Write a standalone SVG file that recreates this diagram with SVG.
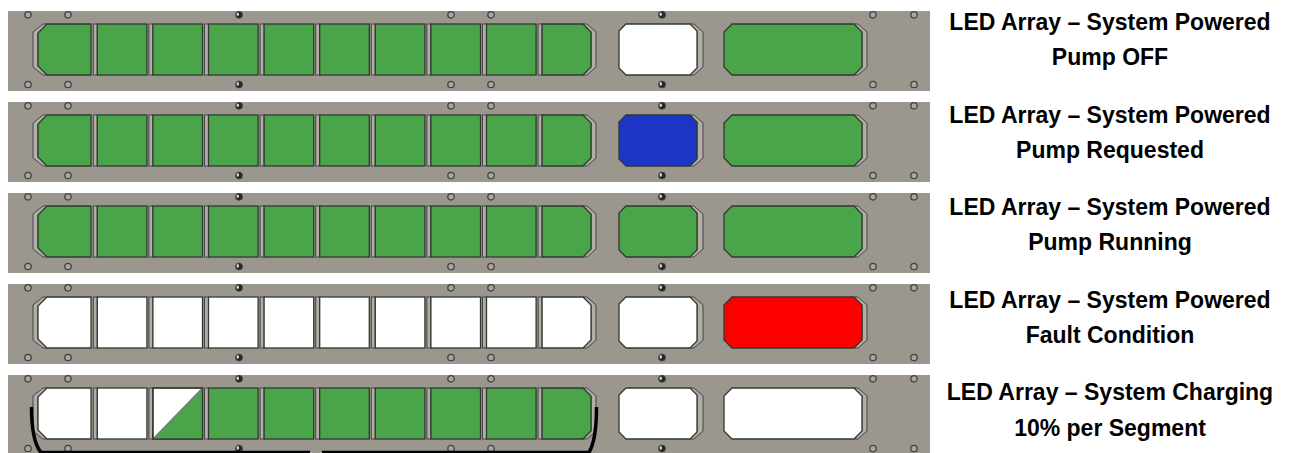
<svg xmlns="http://www.w3.org/2000/svg" xmlns:xlink="http://www.w3.org/1999/xlink" width="1295" height="453" viewBox="0 0 1295 453">
<style>
.plate{fill:#9b978f}
.bz{fill:#b2aea7;stroke:#444;stroke-width:1}
.led{stroke:#2f3a2f;stroke-width:1.3}
.g{fill:#4aa54a}
.w{fill:#ffffff}
.b{fill:#1c35c5}
.r{fill:#fe0000}
.sl{fill:#aaa69f;stroke:#434343;stroke-width:1.3}
.sd{fill:#262626;stroke:#444;stroke-width:0.8}
.sh{fill:#d8d8d8}
.lbl{font-family:"Liberation Sans",Arial,sans-serif;font-weight:bold;font-size:23px;fill:#000;text-anchor:middle}
.brace{fill:none;stroke:#000;stroke-width:3.5;stroke-linecap:butt}
</style>
<defs>
<g id="frame">
<rect class="plate" x="8" y="0" width="922" height="80"/>
<circle class="sl" cx="28" cy="3.8" r="3.2"/><circle class="sl" cx="68" cy="3.8" r="3.2"/>
<circle class="sd" cx="239" cy="3.8" r="3.5"/><ellipse class="sh" cx="237.8" cy="3.2" rx="1.2" ry="1.8"/>
<circle class="sl" cx="451" cy="3.8" r="3.2"/><circle class="sl" cx="491" cy="3.8" r="3.2"/>
<circle class="sd" cx="662" cy="3.8" r="3.5"/><ellipse class="sh" cx="660.8" cy="3.2" rx="1.2" ry="1.8"/>
<circle class="sl" cx="873" cy="3.8" r="3.2"/><circle class="sl" cx="914" cy="3.8" r="3.2"/>
<circle class="sl" cx="28" cy="73.5" r="3.2"/><circle class="sl" cx="68" cy="73.5" r="3.2"/>
<circle class="sd" cx="239" cy="73.5" r="3.5"/><ellipse class="sh" cx="237.8" cy="72.9" rx="1.2" ry="1.8"/>
<circle class="sl" cx="451" cy="73.5" r="3.2"/><circle class="sl" cx="491" cy="73.5" r="3.2"/>
<circle class="sd" cx="662" cy="73.5" r="3.5"/><ellipse class="sh" cx="660.8" cy="72.9" rx="1.2" ry="1.8"/>
<circle class="sl" cx="873" cy="73.5" r="3.2"/><circle class="sl" cx="914" cy="73.5" r="3.2"/>
<polygon class="bz" points="43,13 47,13 38,22 38,55 47,64 43,64 33,56 33,21"/>
<rect class="bz" x="93.3" y="13" width="4" height="51"/>
<rect class="bz" x="148.9" y="13" width="4" height="51"/>
<rect class="bz" x="204.5" y="13" width="4" height="51"/>
<rect class="bz" x="260.1" y="13" width="4" height="51"/>
<rect class="bz" x="315.7" y="13" width="4" height="51"/>
<rect class="bz" x="371.3" y="13" width="4" height="51"/>
<rect class="bz" x="426.9" y="13" width="4" height="51"/>
<rect class="bz" x="482.5" y="13" width="4" height="51"/>
<rect class="bz" x="538.1" y="13" width="4" height="51"/>
<polygon class="bz" points="583,13 587,13 596,21 596,56 587,64 583,64 591,56 591,21"/>
<polygon class="bz" points="690,13 694,13 703,21 703,56 694,64 690,64 697,57 697,20"/>
<polygon class="bz" points="854,13 858,13 867,21 867,56 858,64 854,64 862,56 862,21"/>
</g>
<polygon id="s0" class="led" points="47,13 91,13 91,64 47,64 38,55 38,22"/>
<rect id="s1" class="led" x="97.3" y="13" width="49.6" height="51"/>
<rect id="s2" class="led" x="152.9" y="13" width="49.6" height="51"/>
<rect id="s3" class="led" x="208.5" y="13" width="49.6" height="51"/>
<rect id="s4" class="led" x="264.1" y="13" width="49.6" height="51"/>
<rect id="s5" class="led" x="319.7" y="13" width="49.6" height="51"/>
<rect id="s6" class="led" x="375.3" y="13" width="49.6" height="51"/>
<rect id="s7" class="led" x="430.9" y="13" width="49.6" height="51"/>
<rect id="s8" class="led" x="486.5" y="13" width="49.6" height="51"/>
<polygon id="s9" class="led" points="542.1,13 583,13 591,21 591,56 583,64 542.1,64"/>
<polygon id="pump" class="led" points="626,13 690,13 697,20 697,57 690,64 626,64 619,57 619,20"/>
<polygon id="stat" class="led" points="732,13 854,13 862,21 862,56 854,64 732,64 724,56 724,21"/>
</defs>

<g id="panel-1" transform="translate(0,11)">
<use xlink:href="#frame"/>
<use xlink:href="#s0" class="g"/><use xlink:href="#s1" class="g"/><use xlink:href="#s2" class="g"/><use xlink:href="#s3" class="g"/><use xlink:href="#s4" class="g"/><use xlink:href="#s5" class="g"/><use xlink:href="#s6" class="g"/><use xlink:href="#s7" class="g"/><use xlink:href="#s8" class="g"/><use xlink:href="#s9" class="g"/>
<use xlink:href="#pump" class="w"/><use xlink:href="#stat" class="g"/>
<text class="lbl" x="1110" y="19">LED Array – System Powered</text>
<text class="lbl" x="1110" y="54">Pump OFF</text>
</g>

<g id="panel-2" transform="translate(0,102)">
<use xlink:href="#frame"/>
<use xlink:href="#s0" class="g"/><use xlink:href="#s1" class="g"/><use xlink:href="#s2" class="g"/><use xlink:href="#s3" class="g"/><use xlink:href="#s4" class="g"/><use xlink:href="#s5" class="g"/><use xlink:href="#s6" class="g"/><use xlink:href="#s7" class="g"/><use xlink:href="#s8" class="g"/><use xlink:href="#s9" class="g"/>
<use xlink:href="#pump" class="b"/><use xlink:href="#stat" class="g"/>
<text class="lbl" x="1110" y="20.6">LED Array – System Powered</text>
<text class="lbl" x="1110" y="55.6">Pump Requested</text>
</g>

<g id="panel-3" transform="translate(0,193)">
<use xlink:href="#frame"/>
<use xlink:href="#s0" class="g"/><use xlink:href="#s1" class="g"/><use xlink:href="#s2" class="g"/><use xlink:href="#s3" class="g"/><use xlink:href="#s4" class="g"/><use xlink:href="#s5" class="g"/><use xlink:href="#s6" class="g"/><use xlink:href="#s7" class="g"/><use xlink:href="#s8" class="g"/><use xlink:href="#s9" class="g"/>
<use xlink:href="#pump" class="g"/><use xlink:href="#stat" class="g"/>
<text class="lbl" x="1110" y="22.2">LED Array – System Powered</text>
<text class="lbl" x="1110" y="57.2">Pump Running</text>
</g>

<g id="panel-4" transform="translate(0,284)">
<use xlink:href="#frame"/>
<use xlink:href="#s0" class="w"/><use xlink:href="#s1" class="w"/><use xlink:href="#s2" class="w"/><use xlink:href="#s3" class="w"/><use xlink:href="#s4" class="w"/><use xlink:href="#s5" class="w"/><use xlink:href="#s6" class="w"/><use xlink:href="#s7" class="w"/><use xlink:href="#s8" class="w"/><use xlink:href="#s9" class="w"/>
<use xlink:href="#pump" class="w"/><use xlink:href="#stat" class="r"/>
<text class="lbl" x="1110" y="23.8">LED Array – System Powered</text>
<text class="lbl" x="1110" y="58.8">Fault Condition</text>
</g>

<g id="panel-5" transform="translate(0,375)">
<use xlink:href="#frame"/>
<use xlink:href="#s0" class="w"/><use xlink:href="#s1" class="w"/><use xlink:href="#s2" class="w"/>
<polygon class="g" points="152.9,64 202.5,13 202.5,64"/>
<line x1="152.9" y1="64" x2="202.5" y2="13" stroke="#7a7a7a" stroke-width="1.2"/>
<use xlink:href="#s2" fill="none"/>
<use xlink:href="#s3" class="g"/><use xlink:href="#s4" class="g"/><use xlink:href="#s5" class="g"/><use xlink:href="#s6" class="g"/><use xlink:href="#s7" class="g"/><use xlink:href="#s8" class="g"/><use xlink:href="#s9" class="g"/>
<use xlink:href="#pump" class="w"/><use xlink:href="#stat" class="w"/>
<text class="lbl" x="1110" y="25.3">LED Array – System Charging</text>
<text class="lbl" x="1110" y="60.6">10% per Segment</text>
</g>

<g id="brace">
<path class="brace" d="M31.5,407 C31.5,428 34,444 41,452.5 L310,452.5"/>
<path class="brace" d="M322,452.5 L589,452.5 C594,444 596.5,428 596.5,407"/>
</g>
</svg>
